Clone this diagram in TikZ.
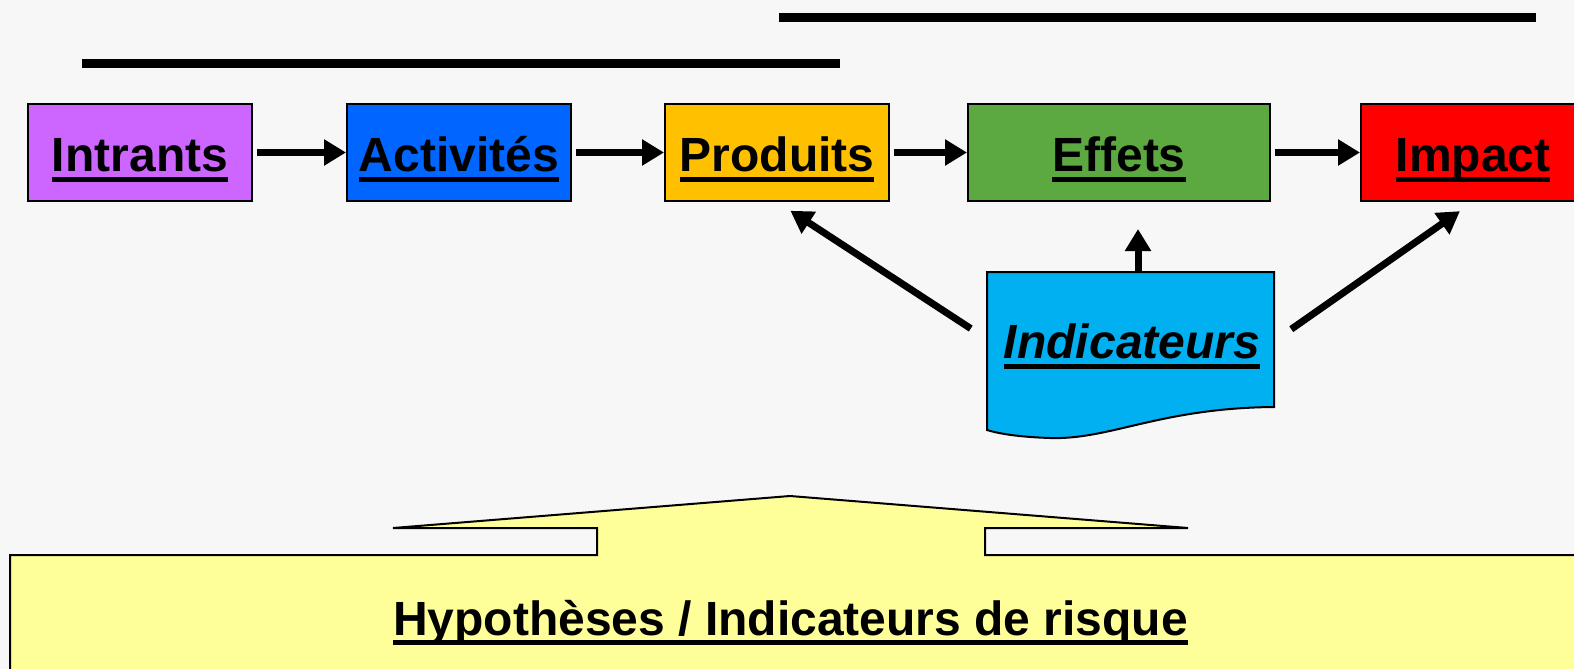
\documentclass[tikz,border=0pt]{standalone}
\usepackage{fontspec}
\setmainfont{Liberation Sans}
\usetikzlibrary{arrows.meta}
\definecolor{cm-lila}{HTML}{CC66FF}
\definecolor{cm-blau}{HTML}{0066FF}
\definecolor{cm-orange}{HTML}{FFC000}
\definecolor{cm-gruen}{HTML}{5BA940}
\definecolor{cm-rot}{HTML}{FF0000}
\definecolor{cm-cyan}{HTML}{00B0F0}
\definecolor{cm-gelb}{HTML}{FFFF99}
\definecolor{cm-fond}{HTML}{F7F7F7}
\newcommand\souligne[1]{\setbox0\hbox{#1}\rlap{\rule[-5pt]{\wd0}{2.5pt}}\box0}

\begin{document}
\begin{tikzpicture}[x=0.5pt, y=-0.5pt,
    boite/.style={draw, line width=1pt, minimum height=48.5pt, inner sep=0pt,
        text height=24pt, text depth=5pt,
        font=\fontsize{24pt}{28pt}\selectfont\bfseries},
    pfeil/.style={line width=3.5pt, -{Triangle[length=11pt, width=12.5pt]}},
    balken/.style={line width=4.5pt}]
    % Hintergrund und Rahmen
    \clip (0,0) rectangle (1574,669);
    \fill[cm-fond] (0,0) rectangle (1574,669);
    
    % Obere Balken
    \draw[balken] (779,17.5) -- (1536,17.5);
    \draw[balken] (82,63.5) -- (840,63.5);
    
    % Kette der Kästen
    \foreach \name/\text/\farbe/\x/\w in {intr/Intrants/cm-lila/140/112,
        activ/Activités/cm-blau/459/112, prod/Produits/cm-orange/777/112,
        eff/Effets/cm-gruen/1119/151, imp/Impact/cm-rot/1473/112} {
        \node[boite, fill=\farbe, minimum width=\w pt] (\name) at (\x,152.5) {\souligne{\text}};
    }
    \foreach \a/\b in {intr/activ, activ/prod, prod/eff, eff/imp} {
        \draw[pfeil, shorten <=2pt] (\a) -- (\b);
    }
    
    % Indikatoren als Dokument
    \draw[line width=1pt, fill=cm-cyan] (987,272) -- (1274,272) -- (1274,407)
        .. controls (1160,408) and (1110,440) .. (1050,438)
        .. controls (1020,437) and (1000,434) .. (987,430) -- cycle;
    \node[boite, draw=none, minimum width=143.5pt, minimum height=67.5pt] (indic) at (1132,339.5)
        {\itshape\souligne{Indicateurs}};
    \draw[pfeil, shorten <=10pt, shorten >=8pt] (indic.west) -- (prod.south);
    \draw[pfeil, shorten >=13.5pt] ([xshift=3pt]indic.north) -- ([xshift=3pt]indic.north |- eff.south);
    \draw[pfeil, shorten <=9pt, shorten >=8pt] (indic.east) -- (imp.south);
    
    % Hypothesen mit Pfeil nach oben
    \draw[line width=1pt, fill=cm-gelb] (10,700) -- (10,555) -- (597,555) -- (597,528) -- (393,528)
        -- (790,496) -- (1188,528) -- (985,528) -- (985,555) -- (1600,555) -- (1600,700);
    \node[font=\fontsize{24pt}{28pt}\selectfont\bfseries, anchor=base, inner sep=0pt] (hypo) at (790.5,635)
        {\souligne{Hypothèses / Indicateurs de risque}};
\end{tikzpicture}
\end{document}
